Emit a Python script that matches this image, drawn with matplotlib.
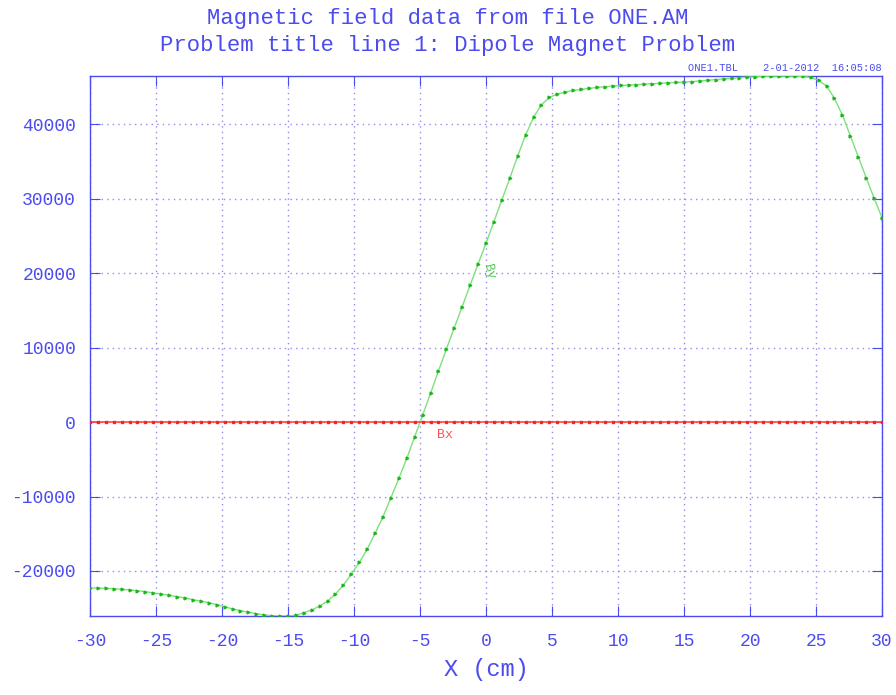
import numpy as np
import matplotlib
matplotlib.use("Agg")
import matplotlib.pyplot as plt

# posiciones X (cm), paso 0.6
x_cm = np.linspace(-30, 30, 101)

by = [-22280, -22282, -22327, -22371, -22461, -22550, -22640, -22774, -22953, -23087,
      -23266, -23445, -23624, -23848, -24072, -24251, -24519, -24787, -25101, -25324,
      -25548, -25727, -25906, -25995, -26040, -26040, -25950, -25593, -25235, -24698,
      -24027, -23087, -21879, -20400, -18860, -17060, -14944, -12707, -10157, -7562,
      -4877, -1969, 940, 3848, 6846, 9799, 12662, 15481, 18389, 21208,
      23980, 26900, 29800, 32707, 35705, 38523, 40895, 42595, 43579, 44027,
      44295, 44519, 44653, 44787, 44922, 45011, 45101, 45190, 45235, 45280,
      45369, 45414, 45458, 45548, 45593, 45637, 45700, 45790, 45880, 45970,
      46060, 46150, 46240, 46300, 46350, 46400, 46440, 46450, 46450, 46440,
      46400, 46260, 45860, 45100, 43445, 41208, 38434, 35615, 32796, 30067,
      27427]

# Bx es cero en todo el rango
bx = [0] * 101

x_ticks = [-30, -25, -20, -15, -10, -5, 0, 5, 10, 15, 20, 25, 30]
y_ticks = [-20000, -10000, 0, 10000, 20000, 30000, 40000]

azul = "#4b4bf0"
fuente = "Liberation Mono"
plt.rcParams["axes.unicode_minus"] = False

fig = plt.figure(figsize=(8.96, 6.95), dpi=100)
ax = fig.add_axes([0.1004, 0.1137, 0.884, 0.7769])

ax.plot(x_cm, by, color="#7ee07e", lw=1.0, marker=">", ms=2,
        mec="#18b818", mfc="#18b818", zorder=3)
ax.plot(x_cm, bx, color="#ff4848", lw=1.2, marker="s", ms=1.6,
        mec="#ff2020", mfc="#ff2020", zorder=3)

ax.set_xlim(-30, 30)
ax.set_ylim(min(by), max(by))
ax.set_xticks(x_ticks)
ax.set_yticks(y_ticks)

ax.grid(True, color="#8c8cf0", linestyle=(0, (1, 3)), lw=1.0)
for s in ax.spines.values():
    s.set_color(azul)
    s.set_linewidth(1.0)
ax.tick_params(direction="in", length=7, color=azul, top=True, right=True,
               labelcolor=azul, labelsize=13)
ax.tick_params(axis="x", pad=12)
ax.tick_params(axis="y", pad=10)
for lab in ax.get_xticklabels() + ax.get_yticklabels():
    lab.set_family(fuente)

ax.set_xlabel("X (cm)", family=fuente, fontsize=17, color=azul, labelpad=6)

ax.text(0.2, 20200, "By", color="#50c850", fontsize=9, family=fuente,
        rotation=-75, ha="center", va="center")
ax.text(-3.1, -1700, "Bx", color="#ff5050", fontsize=9.5, family=fuente,
        ha="center", va="center")

fig.text(0.5, 0.974, "Magnetic field data from file ONE.AM", ha="center",
         va="center", family=fuente, fontsize=16, color=azul)
fig.text(0.5, 0.934, "Problem title line 1: Dipole Magnet Problem", ha="center",
         va="center", family=fuente, fontsize=16, color=azul)
fig.text(0.984, 0.902, "ONE1.TBL    2-01-2012  16:05:08", ha="right",
         va="center", family=fuente, fontsize=7.5, color=azul)

fig.savefig("out.png", dpi=100)
